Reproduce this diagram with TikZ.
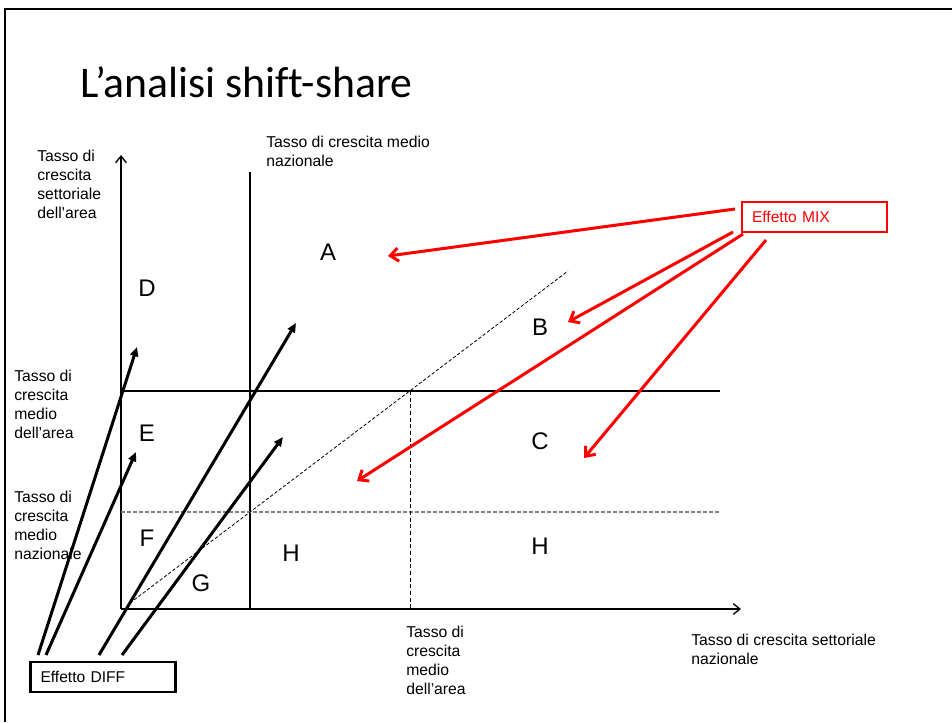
\documentclass[tikz,border=0pt]{standalone}
\usepackage{fontspec}
\setmainfont{Liberation Sans}
\newfontfamily\titlefont[Ligatures=NoCommon]{Carlito}
\usetikzlibrary{arrows.meta}

\begin{document}
\begin{tikzpicture}[x=0.75pt,y=-0.75pt,
   txt/.style={font=\fontsize{11.8}{14.25}\selectfont, align=left, anchor=north west, inner sep=0pt},
   zona/.style={font=\fontsize{18}{20}\selectfont, inner sep=0pt},
   asse/.style={line width=1pt, -{Straight Barb[length=5pt,width=8pt]}},
   frecciamix/.style={red, line width=2.25pt, -{Straight Barb[length=6pt,width=10pt]}},
   frecciadiff/.style={line width=2.25pt, -{Triangle[length=7pt,width=6pt]}},
   effetto/.style={draw, line width=1.8pt, minimum height=22.5pt, text width=93.75pt,
      inner xsep=7.5pt, align=left, font=\fontsize{11.7}{13}\selectfont}]

   \useasboundingbox (0,0) rectangle (952,722);
   \draw[line width=2pt] (5,722) -- (5,9) -- (952,9);

   \node[anchor=base west, inner sep=0pt, font=\titlefont\fontsize{32.8}{36}\selectfont]
      (titolo) at (80,97) {L’analisi shift-share};

% Assi e rette di riferimento
   \coordinate (O) at (121,609);
   \coordinate (ytop) at (121,155);
   \coordinate (xend) at (741,609);
   \draw[asse] (O) -- (ytop);
   \draw[asse] (O) -- (xend);
   \draw[line width=1pt] (250,172) -- (250,609);
   \draw[line width=1pt] (121,391) -- (720,391);
   \draw[gray, line width=1pt, dash pattern=on 3pt off 1.5pt] (121,512) -- (720,512);
   \draw[line width=0.7pt, dash pattern=on 3pt off 2pt] (410,391) -- (410,609);
   \draw[line width=0.6pt, dash pattern=on 2.5pt off 1.5pt] (130,603) -- (568,271);

% Etichette degli assi
   \node[txt] (ylab) at (37,150) {Tasso di\\crescita\\settoriale\\dell’area};
   \node[txt] (vlab) at (266,136) {Tasso di crescita medio\\nazionale};
   \node[txt] (hlab) at (14,370) {Tasso di\\crescita\\medio\\dell’area};
   \node[txt] (hdlab) at (14,491) {Tasso di\\crescita\\medio\\nazionale};
   \node[txt] (vdlab) at (406,626) {Tasso di\\crescita\\medio\\dell’area};
   \node[txt] (xlab) at (691,634) {Tasso di crescita settoriale\\nazionale};

% Zone
   \node[zona] (A) at (328,252) {A};
   \node[zona] (B) at (540,327) {B};
   \node[zona] (C) at (540,441) {C};
   \node[zona] (D) at (147,288) {D};
   \node[zona] (E) at (147,433) {E};
   \node[zona] (F) at (147,538) {F};
   \node[zona] (G) at (201,583) {G};
   \node[zona] (H1) at (291,553) {H};
   \node[zona] (H2) at (540,546) {H};

% Effetti
   \node[effetto, red] (mix) at (814.5,217) {Effetto MIX};
   \node[effetto] (diff) at (103,677) {Effetto DIFF};

   \coordinate (m1) at (735,209);  \coordinate (tA) at (388,256);
   \coordinate (m2) at (733,232);  \coordinate (tB) at (568,322);
   \coordinate (m3) at (743,234);  \coordinate (tH) at (357,481);
   \coordinate (m4) at (766,240);  \coordinate (tC) at (584,458);
   \draw[frecciamix] (m1) -- (tA);
   \draw[frecciamix] (m2) -- (tB);
   \draw[frecciamix] (m3) -- (tH);
   \draw[frecciamix] (m4) -- (tC);

   \coordinate (d1) at (38,655);   \coordinate (tD) at (137,347);
   \coordinate (d2) at (46,655);   \coordinate (tE) at (136,452);
   \coordinate (d3) at (99,655);   \coordinate (tA2) at (296,323);
   \coordinate (d4) at (122,655);  \coordinate (tH2) at (283,437);
   \draw[frecciadiff] (d1) -- (tD);
   \draw[frecciadiff] (d2) -- (tE);
   \draw[frecciadiff] (d3) -- (tA2);
   \draw[frecciadiff] (d4) -- (tH2);

 \end{tikzpicture}
\end{document}
